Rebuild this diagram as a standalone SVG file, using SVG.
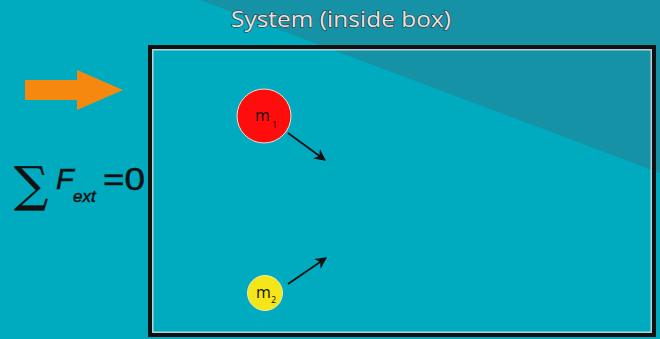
<svg xmlns="http://www.w3.org/2000/svg" width="660" height="339" viewBox="0 0 660 339">
<defs>
<marker id="ah" viewBox="0 0 10 10" refX="9" refY="5" markerWidth="6.5" markerHeight="6.5" orient="auto" markerUnits="strokeWidth">
<path d="M0,0 L10,5 L0,10 L3,5 Z" fill="#111"/>
</marker>
<style>
.lbl{font-family:"Open Sans","Liberation Sans",sans-serif;fill:#111}
.vec{stroke:#111;stroke-width:1.8;fill:none;marker-end:url(#ah)}
.math{font-family:"Liberation Sans",sans-serif;fill:#111;stroke:#111;stroke-width:0.5}
</style>
</defs>
<rect x="0" y="0" width="660" height="339" fill="#00abc0"/>
<polygon points="200,0 660,0 660,173" fill="#1592a6"/>
<text x="341" y="27" text-anchor="middle" font-family="'Open Sans','Liberation Sans',sans-serif" font-size="21" fill="#e4e4e4" stroke="#333" stroke-width="1.2" paint-order="stroke" textLength="220" lengthAdjust="spacingAndGlyphs">System (inside box)</text>
<g id="box">
<rect x="150" y="47" width="504" height="288" fill="none" stroke="#111" stroke-width="4"/>
<rect x="152.8" y="49.8" width="498.4" height="282.4" fill="none" stroke="#e0e0e0" stroke-width="1.2"/>
</g>
<g id="push-arrow">
<polygon points="25,80 77,80 77,70 123,90 77,110 77,100 25,100" fill="#f7880f"/>
</g>
<g id="sum">
<text x="14" y="201" font-family="'DejaVu Serif','Liberation Serif',serif" font-size="48" fill="#111" stroke="#111" stroke-width="0.4">∑</text>
<text x="56" y="189" class="math" font-size="29" font-style="italic">F</text>
<text x="73" y="202" class="math" font-size="17" font-style="italic">ext</text>
<text x="103" y="190" class="math" font-size="31" textLength="42" lengthAdjust="spacingAndGlyphs">=0</text>
</g>
<g id="m1">
<circle cx="264" cy="116" r="27" fill="#ff0d0d" stroke="#f3e0d0" stroke-width="1"/>
<text x="255" y="121" class="lbl" font-size="16">m</text>
<text x="272" y="128" class="lbl" font-size="9">1</text>
</g>
<g id="m2">
<circle cx="265" cy="293" r="17.5" fill="#f5e61a" stroke="#f0e8b0" stroke-width="1"/>
<text x="256" y="298" class="lbl" font-size="16">m</text>
<text x="271" y="303" class="lbl" font-size="9">2</text>
</g>
<g id="connectors">
<line x1="288" y1="133" x2="325" y2="160" class="vec"/>
<line x1="288" y1="284" x2="326" y2="258" class="vec"/>
</g>
</svg>
